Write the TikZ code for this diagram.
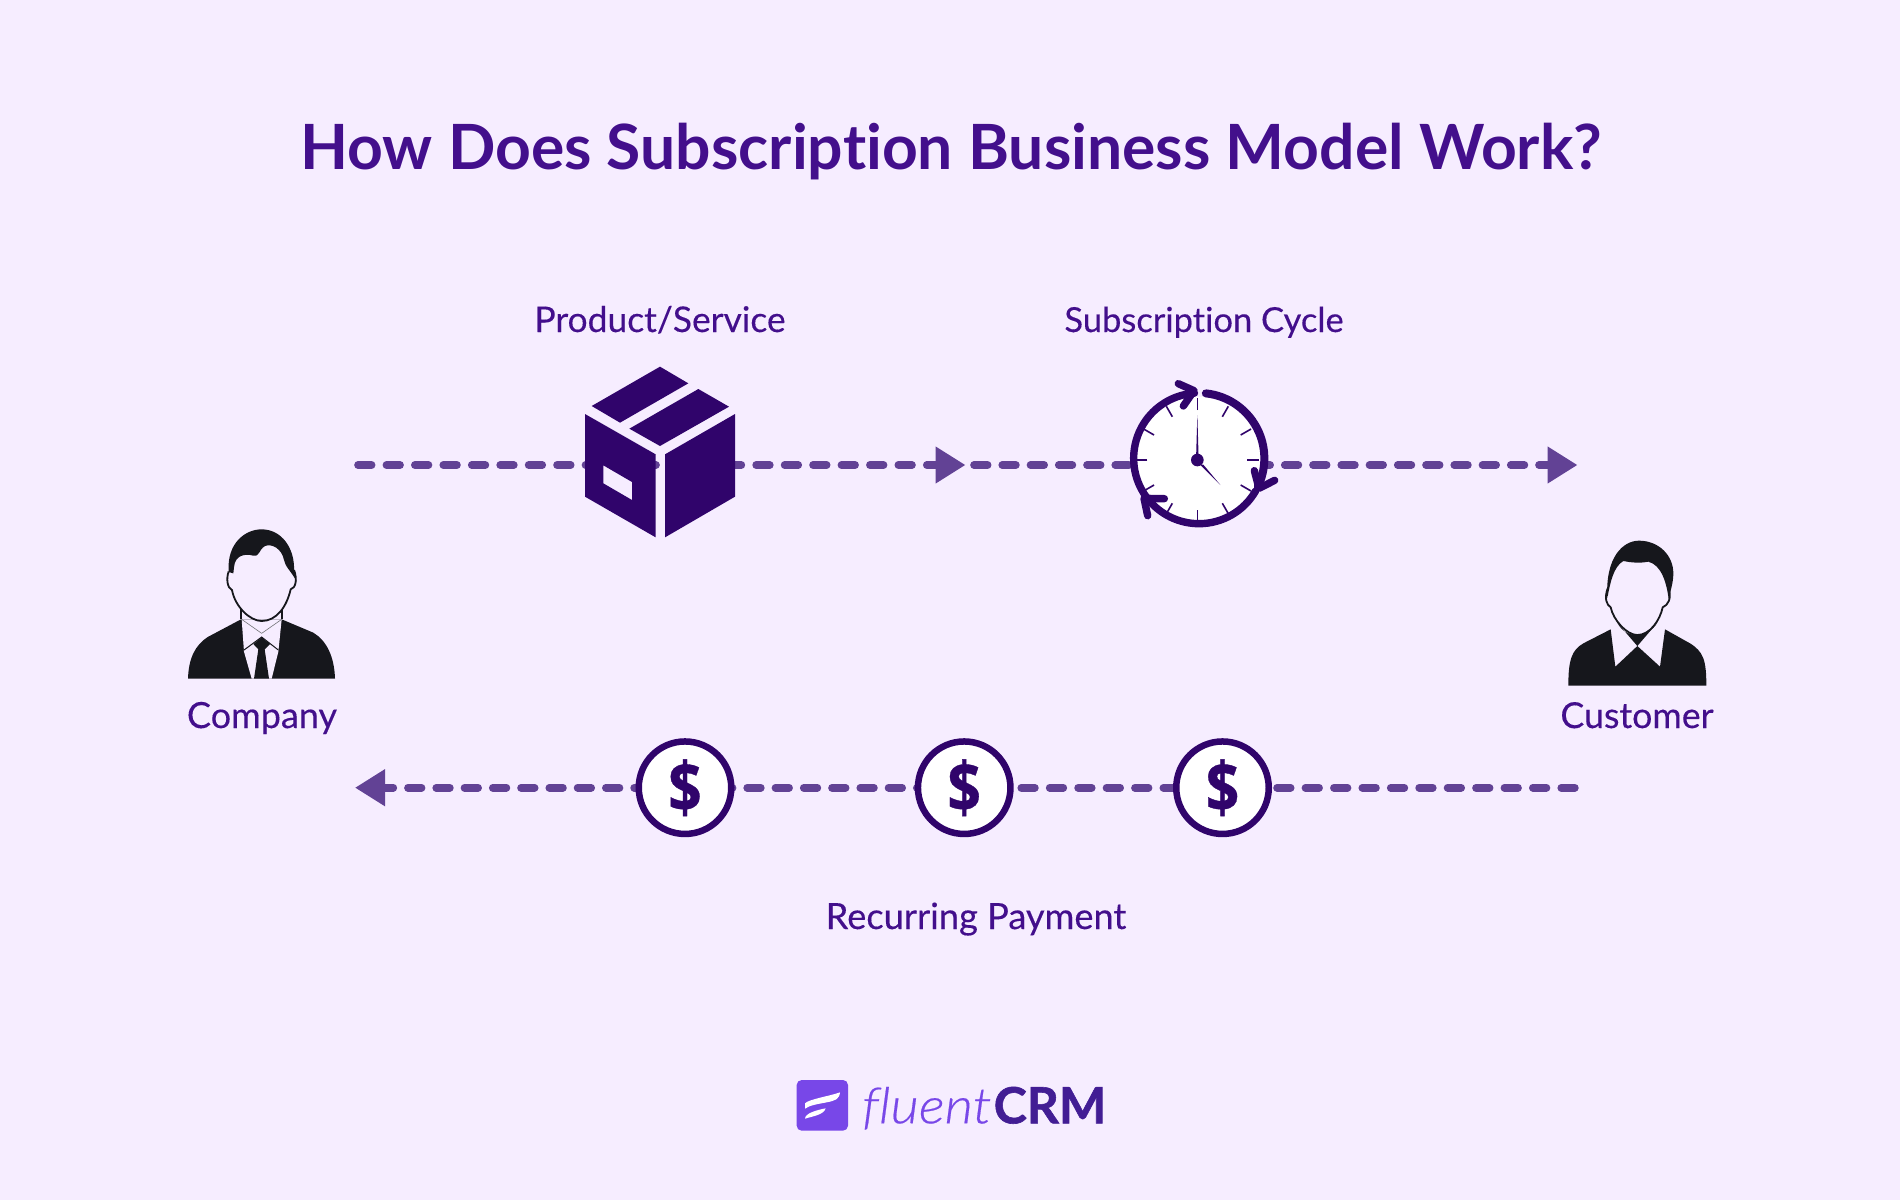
\documentclass[tikz,border=0pt]{standalone}
\usepackage{fontspec}
\usetikzlibrary{arrows.meta,calc}
\setmainfont[Ligatures=NoCommon]{Lato}
\newfontfamily\labfont[Ligatures=NoCommon,FakeBold=0.25]{Lato}
\newfontfamily\crmfont[BoldFeatures={FakeBold=1.2}]{Lato}
\newfontfamily\flfont[Ligatures=NoCommon,ItalicFont={Lato Light Italic},ItalicFeatures={FakeBold=0.35}]{Lato}
\newfontfamily\coinfont[FakeBold=0.5]{Open Sans}
\definecolor{bgc}{HTML}{F6EDFF}
\definecolor{titlec}{HTML}{430F8C}
\definecolor{flowc}{HTML}{624295}
\definecolor{deep}{HTML}{30046B}
\definecolor{ink}{HTML}{16171C}
\definecolor{logoa}{HTML}{7847E8}
\definecolor{logob}{HTML}{421D94}
\tikzset{
  x=0.5pt,y=-0.5pt,
  zoomed/.style={shift={(#1)},x=0.16667pt,y=-0.16667pt},
  flow/.style={draw=flowc,fill=none,line width=3.85pt,line cap=round,dash pattern=on 6.8pt off #1},
  flow/.default=7.42pt,
  flowtip/.style={-{Triangle[length=15pt,width=17.5pt,fill=flowc,color=flowc]}},
  lab/.style={text=titlec,font=\labfont\fontsize{#1}{20}\selectfont,inner sep=0pt,anchor=base},
  lab/.default=17.7,
  coin/.style={circle,draw=deep,fill=white,line width=3.25pt,minimum size=46.25pt,inner sep=0pt,text=deep,font=\coinfont\bfseries\fontsize{31}{34}\selectfont},
  flat/.style={fill=deep,draw=none},
  person/.style={fill=ink,draw=none},
  outline/.style={draw=ink,line width=0.9pt,fill=none,line join=round}
}
\begin{document}
\begin{tikzpicture}
\useasboundingbox (0,0) rectangle (1900,1200);
\fill[bgc] (0,0) rectangle (1900,1200);

% connectors
\coordinate (topL) at (358,465);
\coordinate (topM) at (965.5,465);
\coordinate (topN) at (974,465);
\coordinate (topR) at (1577.5,465);
\coordinate (botR) at (1574.85,787.7);
\coordinate (botM) at (964,787.7);
\coordinate (botN) at (958.7,787.7);
\coordinate (botL) at (355,787.7);
\draw[flow,flowtip] (topL) -- (topM);
\draw[flow=7.325pt,flowtip] (topN) -- (topR);
\draw[flow=7.41pt] (botR) -- (botM);
\draw[flow=7.335pt,flowtip] (botN) -- (botL);

% title & labels
\node[text=titlec,font=\bfseries\fontsize{31.2}{40}\selectfont,inner sep=0pt,anchor=base] (title) at (951,169) {How Does Subscription Business Model Work?};
\node[lab] (product) at (660,332) {Product/Service};
\node[lab=17.25] (cycle) at (1204,332) {Subscription Cycle};
\node[lab=18] (company) at (262,728) {Company};
\node[lab=17.85] (customer) at (1637,728) {Customer};
\node[lab=18.1] (payment) at (976,929) {Recurring Payment};

% coins
\node[coin] (coinA) at (685,787.7) {\scalebox{0.95}[1.12]{\$}};
\node[coin] (coinB) at (964.2,787.7) {\scalebox{0.95}[1.12]{\$}};
\node[coin] (coinC) at (1222.5,787.7) {\scalebox{0.95}[1.12]{\$}};

% box
\begin{scope}[zoomed={560,350}]
\fill[flat] (300,50) -- (385,100) -- (180,218) -- (95,168) -- cycle;
\fill[flat] (415,117) -- (507,170) -- (300,288) -- (208,236) -- cycle;
\fill[flat,even odd rule] (75,192) -- (287,313) -- (287,562) -- (75,440) -- cycle
  (130,346) -- (216,396) -- (216,450) -- (130,400) -- cycle;
\fill[flat] (525,192) -- (525,440) -- (315,562) -- (315,313) -- cycle;
\end{scope}

% clock
\begin{scope}[zoomed={1110,370}]
\coordinate (clk) at (262,270);
\coordinate (rng) at (267,265);
\fill[white] (clk) circle[radius=190];
\foreach \a in {0,30,...,330}{
  \draw[deep,line width=0.8pt] ($(clk)+(\a:150)$) -- ($(clk)+(\a:186)$);
}
\fill[deep] (258,270) -- (262,135) -- (266,270) -- cycle;
\fill[deep] (270,284) -- (331,345) -- (280,284) -- cycle;
\fill[deep] (clk) circle[radius=19];
\begin{scope}[deep,line width=3.7pt,line cap=round,line join=round]
\draw ($(rng)+(144:196)$) arc[start angle=144,end angle=266,radius=196];
\draw[line width=4pt] ($(rng)+(276:196)$) arc[start angle=276,end angle=386,radius=196];
\draw ($(rng)+(30:196)$) arc[start angle=30,end angle=142,radius=196];
\draw (205,41) -- (252,62) -- (220,108);
\draw (433,302) -- (447,355) -- (494,331);
\draw (163,386) -- (102,385) -- (113,437);
\end{scope}
\end{scope}

% company person
\begin{scope}[zoomed={170,510}]
\fill[person] (54,506) .. controls (56,445) and (75,405) .. (115,380) -- (213,328) -- (335,328) -- (430,368) .. controls (470,392) and (493,440) .. (495,506) -- cycle;
\fill[bgc] (215,328) -- (222,425) -- (245,506) -- (305,506) -- (325,425) -- (335,328) -- cycle;
\fill[person] (250,402) -- (275,382) -- (300,402) -- (284,418) -- (297,506) -- (252,506) -- (265,418) -- cycle;
\draw[ink,line width=0.5pt] (222,420) -- (275,381) -- (325,420);
\draw[ink!60,line width=0.3pt] (215,328) -- (275,370) -- (335,328);
\draw[outline] (214,296) -- (214,328);
\draw[outline] (336,296) -- (336,328);
\draw[outline] (176,185) .. controls (168,205) and (172,235) .. (186,240) .. controls (195,290) and (240,333) .. (275,333) .. controls (320,333) and (350,290) .. (362,238) .. controls (378,235) and (382,205) .. (372,180);
\fill[person] (176,185) .. controls (170,100) and (225,58) .. (275,58) .. controls (335,58) and (375,115) .. (372,182) -- (380,215) .. controls (365,185) and (345,170) .. (342,150) .. controls (335,115) and (305,100) .. (285,108) .. controls (265,120) and (270,140) .. (250,137) .. controls (225,130) and (195,135) .. (192,172) -- (190,190) -- (172,185) -- cycle;
\end{scope}

% customer person
\begin{scope}[zoomed={1540,520}]
\fill[person] (85,497) .. controls (85,420) and (95,390) .. (130,370) -- (212,328) -- (226,440) -- (292,378) -- (360,440) -- (375,328) -- (450,370) .. controls (490,395) and (499,420) .. (499,497) -- cycle;
\fill[person] (232,308) -- (292,378) -- (352,308) .. controls (335,335) and (310,345) .. (292,345) .. controls (270,345) and (245,335) .. (232,308) -- cycle;
\draw[outline] (203,205) .. controls (192,235) and (200,255) .. (212,262) .. controls (220,300) and (260,345) .. (292,345) .. controls (330,345) and (360,300) .. (368,262) .. controls (385,255) and (395,235) .. (386,205);
\fill[person] (202,235) .. controls (195,110) and (250,62) .. (297,62) .. controls (355,62) and (400,105) .. (400,160) .. controls (400,190) and (390,215) .. (386,238) .. controls (380,190) and (365,135) .. (325,125) .. controls (300,130) and (275,128) .. (250,123) .. controls (220,140) and (210,190) .. (202,235) -- cycle;
\end{scope}

% logo
\begin{scope}[zoomed={780,1060}]
\fill[logoa,rounded corners=2.5pt] (50,60) rectangle (204,212);
\fill[white] (75,130) .. controls (85,118) and (150,108) .. (180,97) .. controls (178,118) and (165,122) .. (140,127) .. controls (115,132) and (90,135) .. (75,146) -- cycle;
\fill[white] (75,176) .. controls (75,160) and (110,150) .. (137,145) .. controls (130,165) and (100,168) .. (75,176) -- cycle;
\node[anchor=base west,inner sep=0pt,text=logoa,font=\flfont\itshape\fontsize{25}{28}\selectfont] (fluent) at (245,190) {\scalebox{1.1}[1]{fluent}};
\node[anchor=base west,inner sep=0pt,text=logob,font=\crmfont\bfseries\fontsize{25}{28}\selectfont] (crm) at (640,190) {CRM};
\end{scope}
\end{tikzpicture}
\end{document}
